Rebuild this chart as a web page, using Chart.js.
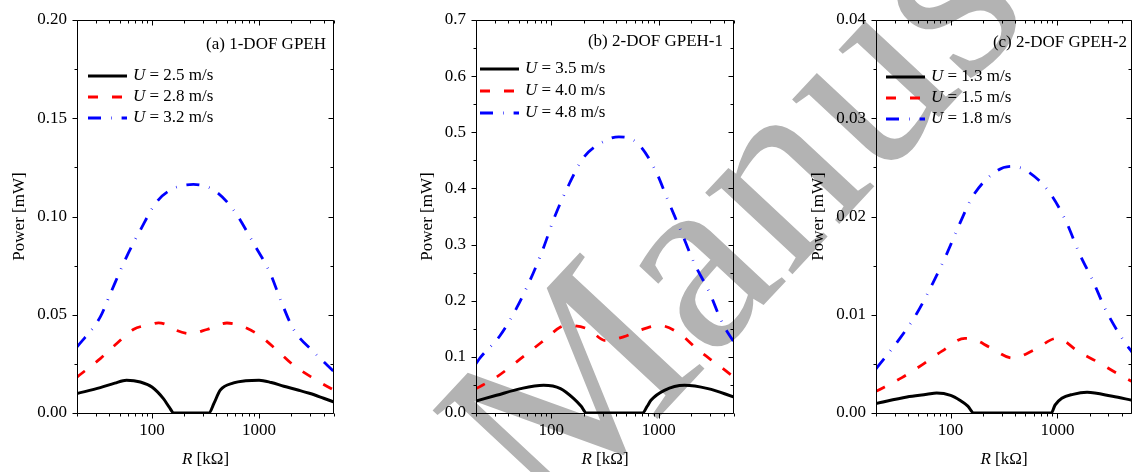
<!DOCTYPE html>
<html>
<head>
<meta charset="utf-8">
<script src="https://cdn.jsdelivr.net/npm/chart.js@4.4.1/dist/chart.umd.min.js"></script>
<style>
  html, body { margin: 0; padding: 0; background: #fff; overflow: hidden; width: 1132px; height: 472px; }
  canvas { position: absolute; top: 0; }
</style>
</head>
<body>
<canvas id="wm" width="1132" height="472" style="left:0"></canvas>
<canvas id="ca" width="331" height="472" style="left:9px"></canvas>
<canvas id="cb" width="323" height="472" style="left:417px"></canvas>
<canvas id="cc" width="324" height="472" style="left:808px"></canvas>
<script>
// x ticks shared by the three panels, R in kOhm
const xMajorTicks = [100, 1000];
const xMinorTicks = [20, 30, 40, 50, 60, 70, 80, 90, 200, 300, 400, 500, 600, 700, 800, 900, 2000, 3000, 4000, 5000];

// (a) 1-DOF GPEH
const yTicksA = [0, 0.05, 0.1, 0.15, 0.2];
const speedsA = ["2.5", "2.8", "3.2"];
const rA25 = [20, 33, 45, 58, 78, 100, 128, 145, 160, 250, 340, 380, 434, 578, 750, 1000, 1300, 1700, 2300, 3000, 4000, 5000];
const pA25 = [0.0099, 0.0129, 0.0152, 0.0167, 0.0158, 0.0132, 0.0073, 0.003, 0, 0, 0, 0.005, 0.0116, 0.0153, 0.0164, 0.0167, 0.0155, 0.0136, 0.0117, 0.0099, 0.0075, 0.0056];
const rA28 = [20, 33, 47, 67, 100, 115, 140, 171, 228, 326, 501, 667, 1000, 1470, 2100, 3240, 5000];
const pA28 = [0.0183, 0.0277, 0.0354, 0.0425, 0.0452, 0.0459, 0.0448, 0.042, 0.0404, 0.0425, 0.0458, 0.0445, 0.0396, 0.0319, 0.0243, 0.0175, 0.0116];
const rA32 = [20, 33, 41, 58, 78, 111, 159, 244, 376, 578, 889, 1273, 1600, 2100, 3240, 5000];
const pA32 = [0.0336, 0.0489, 0.0608, 0.0795, 0.0931, 0.1075, 0.1143, 0.1163, 0.1135, 0.1033, 0.0863, 0.071, 0.057, 0.0425, 0.031, 0.021];

// (b) 2-DOF GPEH-1
const yTicksB = [0, 0.1, 0.2, 0.3, 0.4, 0.5, 0.6, 0.7];
const speedsB = ["3.5", "4.0", "4.8"];
const rB35 = [20, 31, 52, 85, 122, 162, 190, 213, 400, 706, 780, 845, 1127, 1734, 2864, 5000];
const pB35 = [0.0214, 0.0315, 0.0434, 0.0493, 0.0434, 0.0256, 0.012, 0, 0, 0, 0.012, 0.0226, 0.0404, 0.0493, 0.0434, 0.0285];
const rB40 = [20, 31, 52, 85, 122, 141, 217, 321, 476, 635, 1005, 1546, 2324, 3430, 5000];
const pB40 = [0.0434, 0.064, 0.0968, 0.129, 0.153, 0.156, 0.15, 0.129, 0.136, 0.146, 0.156, 0.142, 0.112, 0.088, 0.064];
const rB48 = [20, 22, 33.5, 48, 68, 85, 107, 142, 200, 335, 425, 640, 942, 1220, 1600, 2133, 2950, 3900, 5000];
const pB48 = [0.088, 0.099, 0.138, 0.188, 0.249, 0.295, 0.348, 0.402, 0.455, 0.487, 0.492, 0.48, 0.43, 0.378, 0.325, 0.267, 0.215, 0.16, 0.126];

// (c) 2-DOF GPEH-2
const yTicksC = [0, 0.01, 0.02, 0.03, 0.04];
const speedsC = ["1.3", "1.5", "1.8"];
const rC13 = [20, 39, 60, 74, 100, 122, 145, 165, 400, 877, 950, 1100, 1400, 1900, 3284, 5000];
const pC13 = [0.00096, 0.00163, 0.0019, 0.00204, 0.0018, 0.0013, 0.0007, 0, 0, 0, 0.0008, 0.0015, 0.0019, 0.0021, 0.0017, 0.0013];
const rC15 = [20, 35, 54, 83, 136, 165, 232, 381, 625, 985, 1100, 1546, 2378, 3656, 5000];
const pC15 = [0.0022, 0.0036, 0.0049, 0.0063, 0.0076, 0.0075, 0.0067, 0.0056, 0.0065, 0.0076, 0.0075, 0.0063, 0.0052, 0.004, 0.0032];
const rC18 = [20, 33.5, 48, 68, 92, 122, 162, 276, 380, 525, 850, 1193, 1614, 2140, 2864, 4270, 5000];
const pC18 = [0.0045, 0.0076, 0.0101, 0.0132, 0.0162, 0.0193, 0.0221, 0.0247, 0.0251, 0.0246, 0.0224, 0.0196, 0.0162, 0.0135, 0.0104, 0.0072, 0.0062];

const FONT = '"Liberation Serif", "Times New Roman", serif';
const lineStyles = [
  {color: "#000000", dash: [], width: 3},
  {color: "#ff0000", dash: [10, 14], width: 2.8},
  {color: "#0000ff", dash: [13, 10, 0.6, 10], width: 2.8},
];

function points(r, p) {
  return r.map((x, i) => ({x, y: p[i]}));
}

// box, ticks (out on bottom/left, in on top/right), legend, panel title, x title
const framePlugin = {
  id: "frame",
  afterDatasetsDraw(chart, args, o) {
    const {ctx, chartArea: a, scales: {x, y}} = chart;
    const L = Math.round(a.left) + 0.5, R = Math.round(a.right) - 0.5;
    const T = Math.round(a.top) + 0.5, B = Math.round(a.bottom) + 0.5;
    ctx.save();
    ctx.strokeStyle = "#000";
    ctx.lineWidth = 1;
    ctx.setLineDash([]);
    ctx.beginPath();
    const xt = (v, len) => {
      const px = Math.round(x.getPixelForValue(v)) + 0.5;
      ctx.moveTo(px, B); ctx.lineTo(px, B + len);
      ctx.moveTo(px, T); ctx.lineTo(px, T + len);
    };
    const yt = (v, len) => {
      const py = Math.round(y.getPixelForValue(v)) + 0.5;
      ctx.moveTo(L - len, py); ctx.lineTo(L, py);
      ctx.moveTo(R - len, py); ctx.lineTo(R, py);
    };
    xMajorTicks.forEach(v => xt(v, 5));
    xMinorTicks.forEach(v => xt(v, 3));
    o.yTicks.forEach((v, i) => {
      yt(v, 5);
      if (i > 0) yt((v + o.yTicks[i - 1]) / 2, 3);
    });
    ctx.rect(L, T, R - L, B - T);
    ctx.stroke();

    // panel title
    ctx.fillStyle = "#000";
    ctx.font = "17px " + FONT;
    ctx.textBaseline = "middle";
    ctx.textAlign = "right";
    ctx.fillText(o.title, a.right - o.titleDx, a.top + o.titleDy);

    // legend
    ctx.textAlign = "left";
    chart.data.datasets.forEach((ds, i) => {
      const ly = a.top + o.legDy + i * o.legGap;
      const lx = a.left + o.legDx;
      ctx.strokeStyle = ds.borderColor;
      ctx.lineWidth = ds.borderWidth;
      ctx.setLineDash(ds.borderDash);
      ctx.beginPath();
      ctx.moveTo(lx, ly);
      ctx.lineTo(lx + 39, ly);
      ctx.stroke();
      ctx.setLineDash([]);
      let tx = lx + 45;
      ctx.font = "italic 17px " + FONT;
      ctx.fillText("U", tx, ly);
      tx += ctx.measureText("U").width;
      ctx.font = "17px " + FONT;
      ctx.fillText(" = " + o.speeds[i] + " m/s", tx, ly);
    });

    // x axis title, R in italics
    ctx.font = "italic 17px " + FONT;
    const w1 = ctx.measureText("R").width;
    ctx.font = "17px " + FONT;
    const w2 = ctx.measureText(" [k\u03A9]").width;
    let tx = (a.left + a.right) / 2 - (w1 + w2) / 2;
    ctx.font = "italic 17px " + FONT;
    ctx.fillText("R", tx, 460);
    ctx.font = "17px " + FONT;
    ctx.fillText(" [k\u03A9]", tx + w1, 460);
    ctx.restore();
  }
};

function makePanel(id, cfg) {
  return new Chart(document.getElementById(id), {
    type: "line",
    data: {
      datasets: cfg.series.map(([r, p], i) => ({
        label: "U = " + cfg.speeds[i] + " m/s",
        data: points(r, p),
        borderColor: lineStyles[i].color,
        borderDash: lineStyles[i].dash,
        borderWidth: lineStyles[i].width,
        borderCapStyle: "butt",
        pointRadius: 0,
        fill: false,
        cubicInterpolationMode: "monotone",
      })),
    },
    options: {
      responsive: false,
      animation: false,
      events: [],
      layout: {padding: {top: 20, right: cfg.padRight, left: 0, bottom: 0}},
      scales: {
        x: {
          type: "logarithmic",
          min: 20,
          max: 5000,
          grid: {display: false, drawTicks: true, tickLength: 5},
          border: {display: false},
          afterBuildTicks: s => { s.ticks = xMajorTicks.map(v => ({value: v})); },
          afterFit: s => { s.height = 59; },
          ticks: {
            color: "#000",
            padding: 2,
            maxRotation: 0,
            autoSkip: false,
            font: {family: FONT, size: 17},
            callback: v => String(v),
          },
        },
        y: {
          min: 0,
          max: cfg.yTicks[cfg.yTicks.length - 1],
          grid: {display: false, drawTicks: true, tickLength: 5},
          border: {display: false},
          afterBuildTicks: s => { s.ticks = cfg.yTicks.map(v => ({value: v})); },
          afterFit: s => { s.width = cfg.yWidth; },
          ticks: {
            color: "#000",
            padding: 5,
            font: {family: FONT, size: 17},
            callback: v => v.toFixed(cfg.digits),
          },
          title: {
            display: true,
            text: "Power [mW]",
            color: "#000",
            padding: 0,
            font: {family: FONT, size: 17},
          },
        },
      },
      plugins: {
        legend: {display: false},
        tooltip: {enabled: false},
        frame: {
          yTicks: cfg.yTicks,
          speeds: cfg.speeds,
          title: cfg.title,
          titleDx: cfg.titleDx,
          titleDy: cfg.titleDy,
          legDx: cfg.legDx,
          legDy: cfg.legDy,
          legGap: cfg.legGap,
        },
      },
    },
    plugins: [framePlugin],
  });
}

// watermark behind the charts
const wm = document.getElementById("wm").getContext("2d");
wm.save();
wm.translate(552, 532);
wm.rotate(-47 * Math.PI / 180);
wm.font = "260px " + FONT;
wm.fillStyle = "#b3b3b3";
wm.fillText("Manuscript", 0, 0);
wm.restore();

makePanel("ca", {
  title: "(a) 1-DOF GPEH", speeds: speedsA, yTicks: yTicksA, digits: 2,
  series: [[rA25, pA25], [rA28, pA28], [rA32, pA32]],
  yWidth: 68, padRight: 6, titleDx: 8, titleDy: 25, legDx: 11, legDy: 56, legGap: 21,
});
makePanel("cb", {
  title: "(b) 2-DOF GPEH-1", speeds: speedsB, yTicks: yTicksB, digits: 1,
  series: [[rB35, pB35], [rB40, pB40], [rB48, pB48]],
  yWidth: 59, padRight: 6, titleDx: 11, titleDy: 22, legDx: 4, legDy: 49, legGap: 22,
});
makePanel("cc", {
  title: "(c) 2-DOF GPEH-2", speeds: speedsC, yTicks: yTicksC, digits: 2,
  series: [[rC13, pC13], [rC15, pC15], [rC18, pC18]],
  yWidth: 68, padRight: 0, titleDx: 5, titleDy: 23, legDx: 10, legDy: 57, legGap: 21,
});
</script>
</body>
</html>
